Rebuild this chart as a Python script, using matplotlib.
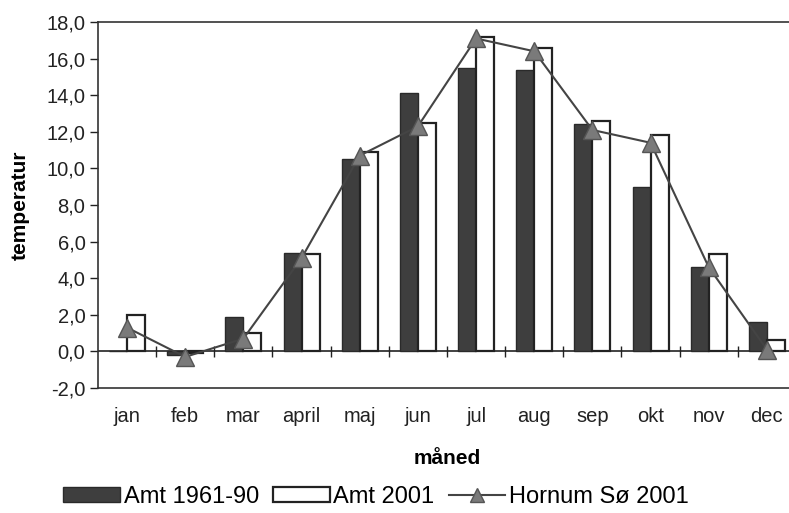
import numpy as np
import matplotlib.pyplot as plt

plt.rcParams['font.family'] = ['Liberation Sans', 'DejaVu Sans']

months = ['jan', 'feb', 'mar', 'april', 'maj', 'jun', 'jul', 'aug', 'sep', 'okt', 'nov', 'dec']
amt_normal = [0.0, -0.2, 1.9, 5.4, 10.5, 14.1, 15.5, 15.4, 12.4, 9.0, 4.6, 1.6]
amt_2001 = [2.0, -0.1, 1.0, 5.3, 10.9, 12.5, 17.2, 16.6, 12.6, 11.8, 5.3, 0.6]
hornum_2001 = [1.3, -0.3, 0.7, 5.1, 10.7, 12.3, 17.1, 16.4, 12.1, 11.4, 4.6, 0.1]
yticks = np.arange(-2, 18.1, 2)

fig = plt.figure(figsize=(7.89, 5.13), dpi=100)
ax = fig.add_axes([98 / 789, 1 - 388 / 513, 698 / 789, 366 / 513])

x = np.arange(len(months))
w = 0.31
b1 = ax.bar(x - w / 2, amt_normal, w, color='#3e3e3e', edgecolor='#2a2a2a', lw=1,
            label='Amt 1961-90', zorder=2)
b2 = ax.bar(x + w / 2, amt_2001, w, color='white', edgecolor='#222222', lw=1.6,
            label='Amt 2001', zorder=2)
ln, = ax.plot(x, hornum_2001, color='#444444', lw=1.5, marker='^', ms=13,
              mfc='#7a7a7a', mec='#555555', label='Hornum Sø 2001', zorder=3)

ax.axhline(0, color='#222222', lw=1.2, zorder=1)
ax.vlines(x[:-1] + 0.5, -0.3, 0.3, color='#222222', lw=1, zorder=1)

ax.set_xlim(-0.5, 11.5)
ax.set_ylim(-2, 18)
ax.set_yticks(yticks)
ax.set_yticklabels([f'{v:.1f}'.replace('.', ',') for v in yticks])
ax.set_xticks(x)
ax.set_xticklabels(months)
ax.tick_params(axis='x', length=0, pad=14, labelsize=14.5, colors='#222222')
ax.tick_params(axis='y', length=6, width=1, direction='out', labelsize=14.5,
               colors='#222222', pad=3)
ax.spines['right'].set_visible(False)
for s in ['left', 'top', 'bottom']:
    ax.spines[s].set_color('#333333')
    ax.spines[s].set_linewidth(1.2)

ax.set_ylabel('temperatur', fontsize=15, fontweight='bold', labelpad=12)
ax.set_xlabel('måned', fontsize=15, fontweight='bold', labelpad=16)

leg = fig.legend([b1, b2, ln], ['Amt 1961-90', 'Amt 2001', 'Hornum Sø 2001'],
                 loc='center', bbox_to_anchor=(376 / 789, 1 - 497 / 513), ncol=3,
                 frameon=False, fontsize=17, handlelength=2.4, handleheight=0.6,
                 handletextpad=0.15, columnspacing=0.6, markerscale=0.8)

fig.savefig('out.png', dpi=100)
